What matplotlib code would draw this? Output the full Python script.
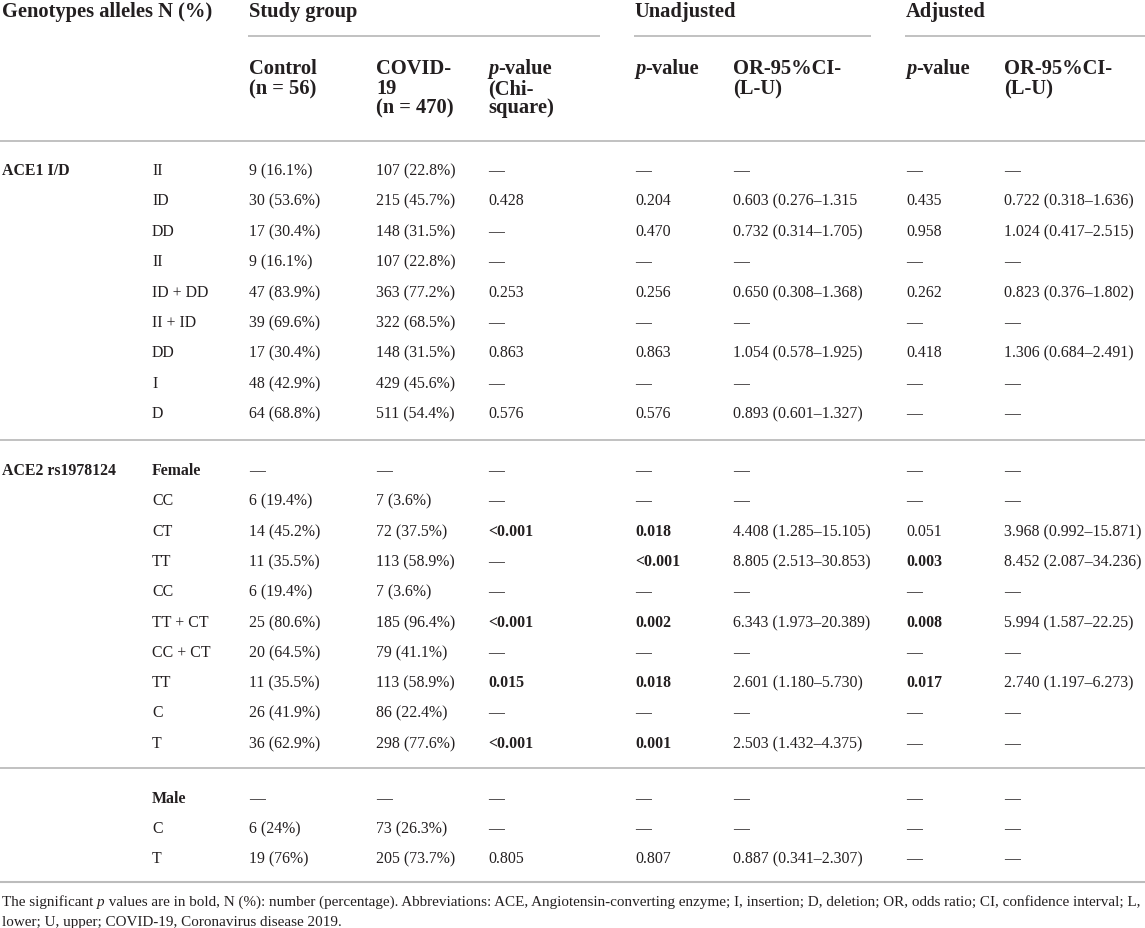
import matplotlib
matplotlib.use("Agg")
import matplotlib.pyplot as plt

# --- TABLE DATA (a trailing "*" marks a bold value) ---
GROUP_HEADERS = ["Study group", "Unadjusted", "Adjusted"]
COL_HEADERS = [
    ["Control", "(n = 56)"],
    ["COVID-", "19", "(n = 470)"],
    ["@p-value", "(Chi-", "square)"],
    ["@p-value"],
    ["OR-95%CI-", "(L-U)"],
    ["@p-value"],
    ["OR-95%CI-", "(L-U)"],
]

ace1_geno = ["II", "ID", "DD", "II", "ID + DD", "II + ID", "DD", "I", "D"]
ace1_control = ["9 (16.1%)", "30 (53.6%)", "17 (30.4%)", "9 (16.1%)", "47 (83.9%)",
                "39 (69.6%)", "17 (30.4%)", "48 (42.9%)", "64 (68.8%)"]
ace1_covid = ["107 (22.8%)", "215 (45.7%)", "148 (31.5%)", "107 (22.8%)", "363 (77.2%)",
              "322 (68.5%)", "148 (31.5%)", "429 (45.6%)", "511 (54.4%)"]
ace1_chi = ["—", "0.428", "—", "—", "0.253", "—", "0.863", "—", "0.576"]
ace1_unadj_p = ["—", "0.204", "0.470", "—", "0.256", "—", "0.863", "—", "0.576"]
ace1_unadj_or = ["—", "0.603 (0.276–1.315", "0.732 (0.314–1.705)", "—", "0.650 (0.308–1.368)",
                 "—", "1.054 (0.578–1.925)", "—", "0.893 (0.601–1.327)"]
ace1_adj_p = ["—", "0.435", "0.958", "—", "0.262", "—", "0.418", "—", "—"]
ace1_adj_or = ["—", "0.722 (0.318–1.636)", "1.024 (0.417–2.515)", "—", "0.823 (0.376–1.802)",
               "—", "1.306 (0.684–2.491)", "—", "—"]

fem_geno = ["Female*", "CC", "CT", "TT", "CC", "TT + CT", "CC + CT", "TT", "C", "T"]
fem_control = ["—", "6 (19.4%)", "14 (45.2%)", "11 (35.5%)", "6 (19.4%)", "25 (80.6%)",
               "20 (64.5%)", "11 (35.5%)", "26 (41.9%)", "36 (62.9%)"]
fem_covid = ["—", "7 (3.6%)", "72 (37.5%)", "113 (58.9%)", "7 (3.6%)", "185 (96.4%)",
             "79 (41.1%)", "113 (58.9%)", "86 (22.4%)", "298 (77.6%)"]
fem_chi = ["—", "—", "<0.001*", "—", "—", "<0.001*", "—", "0.015*", "—", "<0.001*"]
fem_unadj_p = ["—", "—", "0.018*", "<0.001*", "—", "0.002*", "—", "0.018*", "—", "0.001*"]
fem_unadj_or = ["—", "—", "4.408 (1.285–15.105)", "8.805 (2.513–30.853)", "—",
                "6.343 (1.973–20.389)", "—", "2.601 (1.180–5.730)", "—", "2.503 (1.432–4.375)"]
fem_adj_p = ["—", "—", "0.051", "0.003*", "—", "0.008*", "—", "0.017*", "—", "—"]
fem_adj_or = ["—", "—", "3.968 (0.992–15.871)", "8.452 (2.087–34.236)", "—",
              "5.994 (1.587–22.25)", "—", "2.740 (1.197–6.273)", "—", "—"]

male_geno = ["Male*", "C", "T"]
male_control = ["—", "6 (24%)", "19 (76%)"]
male_covid = ["—", "73 (26.3%)", "205 (73.7%)"]
male_chi = ["—", "—", "0.805"]
male_unadj_p = ["—", "—", "0.807"]
male_unadj_or = ["—", "—", "0.887 (0.341–2.307)"]
male_adj_p = ["—", "—", "—"]
male_adj_or = ["—", "—", "—"]

FOOTNOTE = [
    [("The significant ", "normal"), ("p", "italic"),
     (" values are in bold, N (%): number (percentage). Abbreviations: ACE, Angiotensin-converting "
      "enzyme; I, insertion; D, deletion; OR, odds ratio; CI, confidence interval; L,", "normal")],
    [("lower; U, upper; COVID-19, Coronavirus disease 2019.", "normal")],
]

# --- LAYOUT ---
W, H = 1145, 929
FONT = "Liberation Serif"
TXT = "#231f20"
RULE = "#bcbcbc"
BODY = 11.4
HEAD = 14.8
FOOT = 10.9
COL_X = [2, 152, 249, 376, 488, 635, 733, 906, 1004]
GROUP_X = [(249, 248, 600), (635, 634, 871), (906, 905, W)]

fig = plt.figure(figsize=(W / 100, H / 100), dpi=100)
ax = fig.add_axes([0, 0, 1, 1])
ax.set_xlim(0, W)
ax.set_ylim(H, 0)
ax.axis("off")
renderer = fig.canvas.get_renderer()


def runs(x, y, parts, size, bold=False):
    """Draw a sequence of text runs on one baseline, left to right."""
    for s, style in parts:
        t = ax.text(x, y, s, fontsize=size, family=FONT, color=TXT, va="baseline",
                    ha="left", fontstyle="italic" if style == "italic" else "normal",
                    fontweight="bold" if bold else "normal")
        x += t.get_window_extent(renderer).width


def cell(x, y, s, size=BODY):
    bold = s.endswith("*")
    s = s.rstrip("*")
    ax.text(x, y, s, fontsize=size, family=FONT, color=TXT, va="baseline", ha="left",
            fontweight="bold" if bold else "normal")


def header(x, y, s):
    if s.startswith("@"):
        runs(x, y, [("p", "italic"), (s[2:], "normal")], HEAD, bold=True)
    else:
        ax.text(x, y, s, fontsize=HEAD, family=FONT, color=TXT, va="baseline",
                ha="left", fontweight="bold")


def hline(y, x0=0, x1=W, lw=1.3):
    ax.plot([x0, x1], [y, y], color=RULE, lw=lw, solid_capstyle="butt")


# header row 1
header(COL_X[0], 17, "Genotypes alleles N (%)")
for name, (tx, x0, x1) in zip(GROUP_HEADERS, GROUP_X):
    header(tx, 17, name)
    hline(37, x0, x1)

# header row 2
for lines, x in zip(COL_HEADERS, COL_X[2:]):
    for i, s in enumerate(lines):
        header(x, round(74 + 19.5 * i), s)

hline(142)

blocks = [
    ("ACE1 I/D", 170, 30.4,
     [ace1_geno, ace1_control, ace1_covid, ace1_chi, ace1_unadj_p, ace1_unadj_or,
      ace1_adj_p, ace1_adj_or]),
    ("ACE2 rs1978124", 470, 30.3,
     [fem_geno, fem_control, fem_covid, fem_chi, fem_unadj_p, fem_unadj_or,
      fem_adj_p, fem_adj_or]),
    (None, 798, 30.0,
     [male_geno, male_control, male_covid, male_chi, male_unadj_p, male_unadj_or,
      male_adj_p, male_adj_or]),
]

for label, y0, step, cols in blocks:
    if label:
        cell(COL_X[0], y0 + 5, label + "*")
    for ci, col in enumerate(cols):
        for ri, s in enumerate(col):
            cell(COL_X[ci + 1], round(y0 + step * ri) + 5, s)

hline(441)
hline(769)
hline(883, lw=1.5)

for i, parts in enumerate(FOOTNOTE):
    runs(2, 906 + 20 * i, parts, FOOT)

fig.savefig("out.png", dpi=100, facecolor="white")
